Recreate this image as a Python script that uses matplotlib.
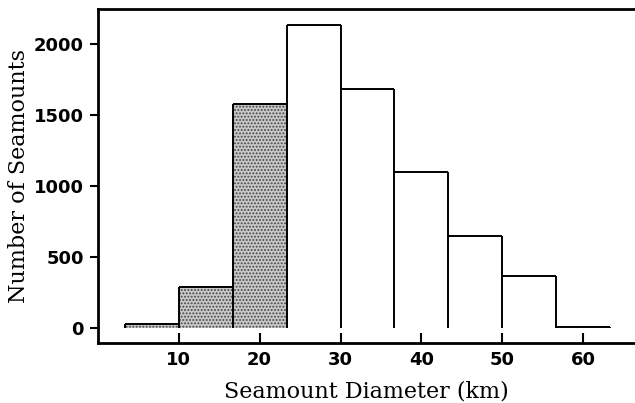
import matplotlib
matplotlib.use("Agg")
import matplotlib.pyplot as plt
import numpy as np

# bin edges (km) and counts
bin_edges = [3.33, 10.0, 16.67, 23.33, 30.0, 36.67, 43.33, 50.0, 56.67, 63.33]
counts = [25, 290, 1575, 2135, 1680, 1095, 650, 365, 8]
shaded = [True, True, True, False, False, False, False, False, False]

x_ticks = [10, 20, 30, 40, 50, 60]
y_ticks = [0, 500, 1000, 1500, 2000]

plt.rcParams['hatch.color'] = '#444444'
plt.rcParams['hatch.linewidth'] = 0.9

fig = plt.figure(figsize=(6.35, 4.03), dpi=100)
ax = fig.add_axes([0.154, 0.149, 0.846, 0.829])

edges = np.array(bin_edges)
vals = np.array(counts)
left = edges[:-1]
widths = np.diff(edges)

# fill (no outline, histogram has no baseline)
for l, w, c, s in zip(left, widths, vals, shaded):
    if s:
        ax.bar(l, c, width=w, align='edge', facecolor='#c8c8c8', edgecolor='#444444',
               linewidth=0, hatch='.....')

# outline: tops + full-height verticals at every edge
ax.hlines(vals, left, edges[1:], color='black', linewidth=1.4)
pad = np.concatenate([[0], vals, [0]])
ax.vlines(edges, 0, np.maximum(pad[:-1], pad[1:]), color='black', linewidth=1.4)

ax.set_xlim(0, 66.4)
ax.set_ylim(-105, 2245)
ax.set_xticks(x_ticks)
ax.set_yticks(y_ticks)

for sp in ax.spines.values():
    sp.set_linewidth(2)
ax.spines['right'].set_visible(False)

ax.tick_params(axis='x', direction='in', length=7, width=1.5, labelsize=13, pad=6)
ax.tick_params(axis='y', direction='out', length=6, width=1.5, labelsize=13, pad=4)
for lab in ax.get_xticklabels() + ax.get_yticklabels():
    lab.set_fontweight('bold')

ax.set_xlabel('Seamount Diameter (km)', family='DejaVu Serif', fontsize=16, labelpad=8)
ax.set_ylabel('Number of Seamounts', family='DejaVu Serif', fontsize=16, labelpad=3)

fig.savefig('out.png', dpi=100)
